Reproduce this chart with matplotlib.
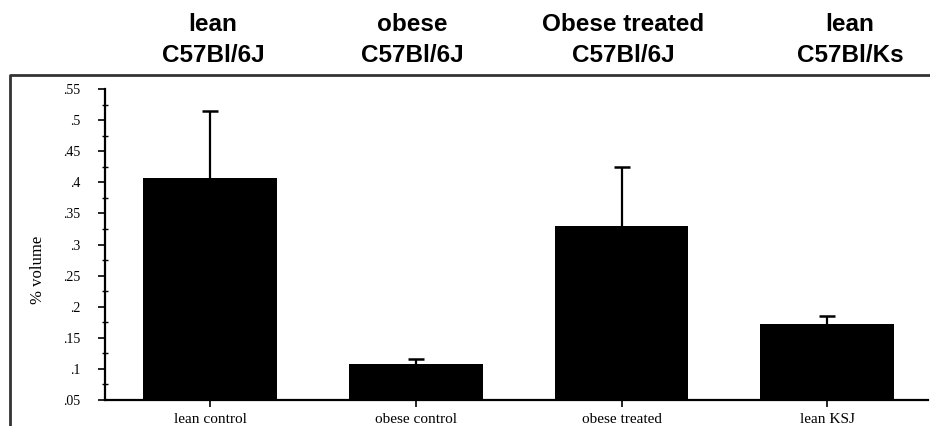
import numpy as np
import matplotlib.pyplot as plt
from matplotlib.lines import Line2D
from matplotlib.ticker import MultipleLocator

groups = ['lean control', 'obese control', 'obese treated', 'lean KSJ']
headers = ['lean\nC57Bl/6J', 'obese\nC57Bl/6J', 'Obese treated\nC57Bl/6J', 'lean\nC57Bl/Ks']
volume = [0.407, 0.108, 0.330, 0.172]
volume_err = [0.108, 0.008, 0.095, 0.013]
yticks = [0.05, 0.1, 0.15, 0.2, 0.25, 0.3, 0.35, 0.4, 0.45, 0.5, 0.55]
ytick_labels = ['.05', '.1', '.15', '.2', '.25', '.3', '.35', '.4', '.45', '.5', '.55']

serif = ['Liberation Serif', 'DejaVu Serif']
sans = ['Liberation Sans', 'DejaVu Sans']

fig = plt.figure(figsize=(9.3, 4.26), dpi=100)
ax = fig.add_axes([0.113, 0.061, 0.885, 0.730])

x = np.arange(len(groups))
ax.bar(x, volume, width=0.65, color='black', zorder=2)
# upper error only: stem from bar top, cap at the top end
tops = np.array(volume) + np.array(volume_err)
ax.errorbar(x, volume, yerr=[np.zeros(len(volume)), volume_err], fmt='none',
            ecolor='black', elinewidth=1.6, capsize=0, zorder=1)
ax.plot(x, tops, linestyle='none', marker='_', markersize=11, markeredgewidth=1.8,
        color='black', zorder=1)

ax.set_xlim(-0.51, 3.49)
ax.set_ylim(0.05, 0.55)
ax.set_xticks(x)
ax.set_xticklabels(groups, fontfamily=serif, fontsize=11)
ax.set_yticks(yticks)
ax.set_yticklabels(ytick_labels, fontfamily=serif, fontsize=10)
ax.yaxis.set_minor_locator(MultipleLocator(0.025))
ax.tick_params(axis='y', which='major', direction='out', length=5, width=1.2, pad=13)
ax.tick_params(axis='y', which='minor', direction='inout', length=4, width=1)
ax.tick_params(axis='x', direction='out', length=5, width=1.2, pad=4)

for side in ['top', 'right']:
    ax.spines[side].set_visible(False)
for side in ['left', 'bottom']:
    ax.spines[side].set_linewidth(1.6)

fig.text(38 / 930, 1 - 270 / 426, '% volume', rotation=90, ha='center', va='center',
         fontfamily=serif, fontsize=12)

# strain headers above each group
header_x = [213, 412, 623, 850]
for hx, h in zip(header_x, headers):
    fig.text(hx / 930, 1 - 40 / 426, h, ha='center', va='center', fontfamily=sans,
             fontweight='bold', fontsize=17.5, linespacing=1.4)

# outer panel border (top and left edges)
fig.add_artist(Line2D([10 / 930, 10 / 930, 1.0], [0.0, 1 - 75 / 426, 1 - 75 / 426],
                      transform=fig.transFigure, color='#333333', linewidth=2))

fig.savefig('out.png', dpi=100)
